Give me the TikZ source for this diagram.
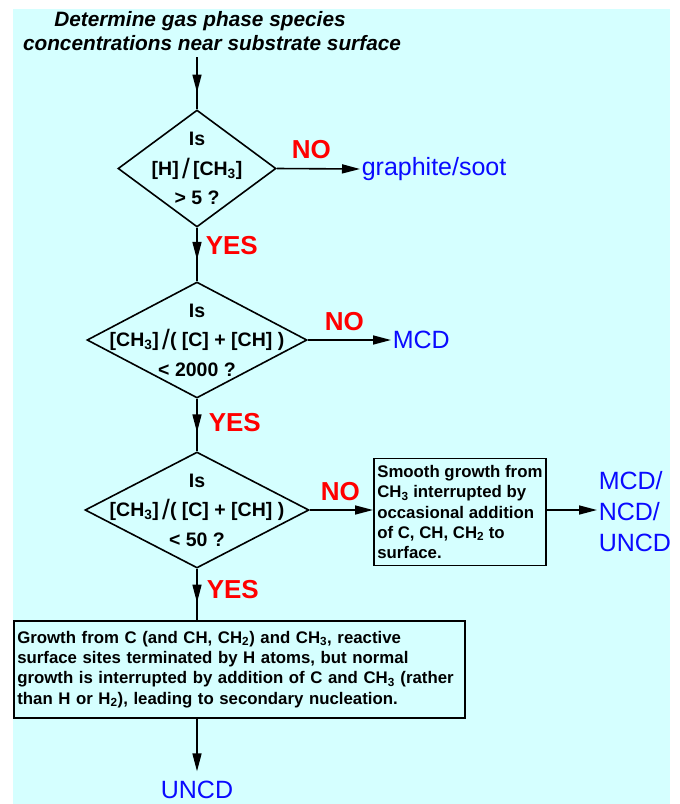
\documentclass[tikz,border=0pt]{standalone}
\usepackage{fontspec}
\setmainfont{Liberation Sans}
\usetikzlibrary{shapes.geometric,arrows.meta,calc}
\definecolor{bgc}{RGB}{213,255,255}
\definecolor{nored}{RGB}{255,0,0}
\definecolor{resblue}{RGB}{10,10,255}
\newcommand\bsl{\raisebox{-3pt}{\fontsize{28}{28}\selectfont\mdseries /}}
\begin{document}
\begin{tikzpicture}[x=1pt,y=-1pt,
  line width=1.6pt,
  arr/.style={-{Triangle[length=18pt,width=9pt]}},
  dia/.style={draw, diamond, inner sep=0pt, line width=1.6pt},
  dtext/.style={align=center, inner sep=0pt, font=\bfseries\fontsize{19.5}{29.5}\selectfont},
  titletext/.style={align=center, inner sep=1pt, font=\bfseries\itshape\fontsize{20.8}{24.5}\selectfont},
  res/.style={text=resblue, inner sep=1pt, font=\fontsize{25}{31}\selectfont},
  lab/.style={text=nored, inner sep=0pt, anchor=west, font=\bfseries\fontsize{26}{26}\selectfont},
  txtbox/.style={draw, line width=1.6pt, align=left, inner xsep=3.5pt, inner ysep=4pt, font=\bfseries\fontsize{16.8}{20.3}\selectfont}
]
\useasboundingbox (0,0) rectangle (680,804);
\fill[bgc] (13,9) rectangle (670,804);

\node[titletext] (title) at (212,31) {Determine gas phase species\hspace*{24pt}\\concentrations near substrate surface};
\coordinate (start) at (197,57);

\node[dia, minimum width=158pt, minimum height=117pt] (d1) at (197,168.5) {};
\node[dtext] (t1) at (d1) {Is\\{}[H]\,\bsl\,[CH\textsubscript{3}]\\{}> 5 ?};

\node[dia, minimum width=220pt, minimum height=116pt] (d2) at (197,340) {};
\node[dtext] (t2) at (d2) {Is\\{}[CH\textsubscript{3}]\,\bsl( [C] + [CH] )\\{}< 2000 ?};

\node[dia, minimum width=224pt, minimum height=116pt] (d3) at (197,510) {};
\node[dtext] (t3) at (d3) {Is\\{}[CH\textsubscript{3}]\,\bsl( [C] + [CH] )\\{}< 50 ?};

\node[res, anchor=west] (soot) at (360,169) {graphite/soot};
\node[res, anchor=west] (mcd) at (391,340) {MCD};
\node[res, anchor=west, align=left] (mix) at (597,512) {MCD/\\NCD/\\UNCD};
\node[res] (uncd) at (197,790) {UNCD};

\node[lab] (no1) at (291,150) {NO};
\node[lab] (no2) at (324,322) {NO};
\node[lab] (no3) at (320,492) {NO};
\node[lab] (yes1) at (205,246) {YES};
\node[lab] (yes2) at (208,423) {YES};
\node[lab] (yes3) at (206,590) {YES};

\node[txtbox, minimum width=172pt, minimum height=107pt, anchor=west] (box2) at (373,512)
 {Smooth growth from\\CH\textsubscript{3} interrupted by\\occasional addition\\of C, CH, CH\textsubscript{2} to\\surface.};

\node[txtbox, text width=444pt, minimum height=97pt, anchor=north west] (box3) at (13,620)
 {Growth from C (and CH, CH\textsubscript{2}) and CH\textsubscript{3}, reactive\\surface sites terminated by H atoms, but normal\\growth is interrupted by addition of C and CH\textsubscript{3} (rather\\than H or H\textsubscript{2}), leading to secondary nucleation.};

% vertical connectors with the arrowhead part-way down
\draw (start) -- (d1.north);
\draw[arr] (start) -- ($(start)!0.68!(d1.north)$);
\draw (d1.south) -- (d2.north);
\draw[arr] (d1.south) -- ($(d1.south)!0.6!(d2.north)$);
\draw (d2.south) -- (d3.north);
\draw[arr] (d2.south) -- ($(d2.south)!0.64!(d3.north)$);
\draw (d3.south) -- (d3.south |- box3.north);
\draw[arr] (d3.south) -- ($(d3.south)!0.66!(d3.south |- box3.north)$);

% horizontal connectors
\draw[arr] (d1.east) -- (soot.west);
\draw[arr] (d2.east) -- (mcd.west);
\draw[arr] (d3.east) -- (d3.east -| box2.west);
\draw[arr] (d3.east -| box2.east) -- (d3.east -| mix.west);
\draw[arr, shorten >=8pt] (box3.south -| d3.south) -- (uncd.north);
\end{tikzpicture}
\end{document}
